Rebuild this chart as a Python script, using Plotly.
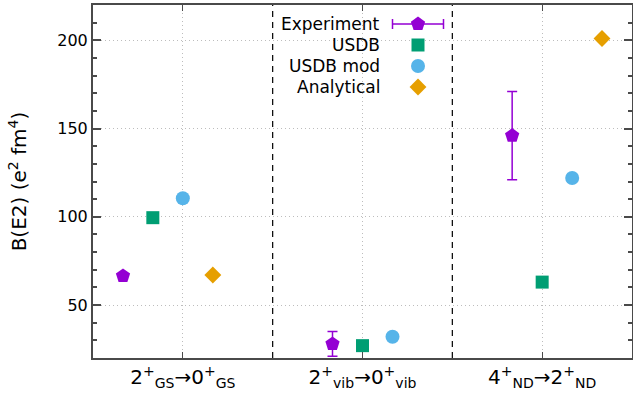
import plotly.graph_objects as go

# ---------------- data ----------------
cat_labels = ["2<sup>+</sup><sub>GS</sub>→0<sup>+</sup><sub>GS</sub>",
              "2<sup>+</sup><sub>vib</sub>→0<sup>+</sup><sub>vib</sub>",
              "4<sup>+</sup><sub>ND</sub>→2<sup>+</sup><sub>ND</sub>"]
cat_pos = [1, 2, 3]
separators = [1.5, 2.5]

exp_x = [0.667, 1.833, 2.833]
exp_y = [66.5, 28.0, 146.0]
exp_err = [0.0, 7.0, 25.0]

usdb_x = [0.833, 2.0, 3.0]
usdb_y = [99.5, 27.0, 63.0]

mod_x = [1.0, 2.167, 3.167]
mod_y = [110.5, 32.0, 122.0]

ana_x = [1.167, 3.333]
ana_y = [67.0, 201.0]

names = ["Experiment", "USDB", "USDB mod", "Analytical"]
colors = ["#9400D3", "#009E73", "#56B4E9", "#E69F00"]
symbols = ["pentagon", "square", "circle", "diamond"]

FONT = "DejaVu Sans"

fig = go.Figure()

fig.add_trace(go.Scatter(x=exp_x, y=exp_y, mode="markers", name=names[0],
                         marker=dict(symbol=symbols[0], size=15, color=colors[0]),
                         error_y=dict(type="data", array=exp_err, color=colors[0],
                                      thickness=1.5, width=5),
                         showlegend=False))
fig.add_trace(go.Scatter(x=usdb_x, y=usdb_y, mode="markers", name=names[1],
                         marker=dict(symbol=symbols[1], size=13, color=colors[1]),
                         showlegend=False))
fig.add_trace(go.Scatter(x=mod_x, y=mod_y, mode="markers", name=names[2],
                         marker=dict(symbol=symbols[2], size=14, color=colors[2]),
                         showlegend=False))
fig.add_trace(go.Scatter(x=ana_x, y=ana_y, mode="markers", name=names[3],
                         marker=dict(symbol=symbols[3], size=13, color=colors[3]),
                         showlegend=False))

# ---------------- plot-area geometry (pixels) ----------------
L, R, T, B = 93, 632, 5, 358
W, H = 633, 401

def px_x(p):
    return (p - L) / (R - L)

def px_y(p):
    return 1 - (p - T) / (B - T)

# ---------------- custom gnuplot-style key (overlay axes in pixel units) ----------------
key_text_x = 382
key_mark_x = 418
key_rows_y = [24, 45, 66, 87]
key_sizes = [15, 13, 14, 13]
for i in range(4):
    fig.add_trace(go.Scatter(
        x=[key_mark_x], y=[key_rows_y[i]], mode="markers", xaxis="x2", yaxis="y2",
        marker=dict(symbol=symbols[i], size=key_sizes[i], color=colors[i]),
        error_x=(dict(type="data", array=[25.5], color=colors[0], thickness=1.5, width=5)
                 if i == 0 else None),
        showlegend=False, hoverinfo="skip"))
    fig.add_annotation(x=key_text_x, y=key_rows_y[i], xref="x2", yref="y2",
                       text=names[i], showarrow=False, xanchor="right", yanchor="middle",
                       font=dict(family=FONT, size=17, color="black"))

# white key box (hides grid behind the key)
fig.add_shape(type="rect", xref="paper", yref="paper",
              x0=px_x(280), x1=px_x(452), y0=px_y(98), y1=px_y(11),
              fillcolor="white", line=dict(width=0), layer="between")

# separators
for s in separators:
    fig.add_shape(type="line", xref="x", yref="paper", x0=s, x1=s, y0=0, y1=1,
                  line=dict(color="black", width=1.2, dash="6px,5px"), layer="above")

axis_line = "#4a4a4a"
grid_col = "#bdbdbd"
grid_dash = "1px,3px"
fig.update_layout(
    width=W, height=H,
    margin=dict(l=L, r=W - R, t=T, b=H - B, autoexpand=False),
    plot_bgcolor="white", paper_bgcolor="white",
    font=dict(family=FONT, size=16, color="black"),
    xaxis=dict(range=[0.5, 3.5], tickvals=cat_pos, ticktext=cat_labels,
               ticks="inside", ticklen=6, tickcolor=axis_line,
               showline=True, linecolor=axis_line, linewidth=2, mirror="ticks",
               showgrid=True, gridcolor=grid_col, griddash=grid_dash, gridwidth=1,
               zeroline=False,
               tickfont=dict(family=FONT, size=20, color="black")),
    yaxis=dict(range=[20, 220], tickvals=[50, 100, 150, 200],
               ticks="inside", ticklen=8, tickcolor=axis_line, tickwidth=1.5,
               minor=dict(dtick=10, tick0=0, ticks="inside", ticklen=4,
                          tickcolor=axis_line, showgrid=False),
               showline=True, linecolor=axis_line, linewidth=2, mirror="allticks",
               showgrid=True, gridcolor=grid_col, griddash=grid_dash, gridwidth=1,
               zeroline=False,
               tickfont=dict(family=FONT, size=16, color="black"),
               title=dict(text="B(E2) (e<sup>2</sup> fm<sup>4</sup>)",
                          font=dict(family=FONT, size=20, color="black"), standoff=25)),
    xaxis2=dict(range=[L, R], overlaying="x", visible=False, fixedrange=True),
    yaxis2=dict(range=[B, T], overlaying="y", visible=False, fixedrange=True),
)

fig.write_html("out.html", config={"displayModeBar": False},
               post_script="document.body.style.margin='0';document.body.style.overflow='hidden';")
